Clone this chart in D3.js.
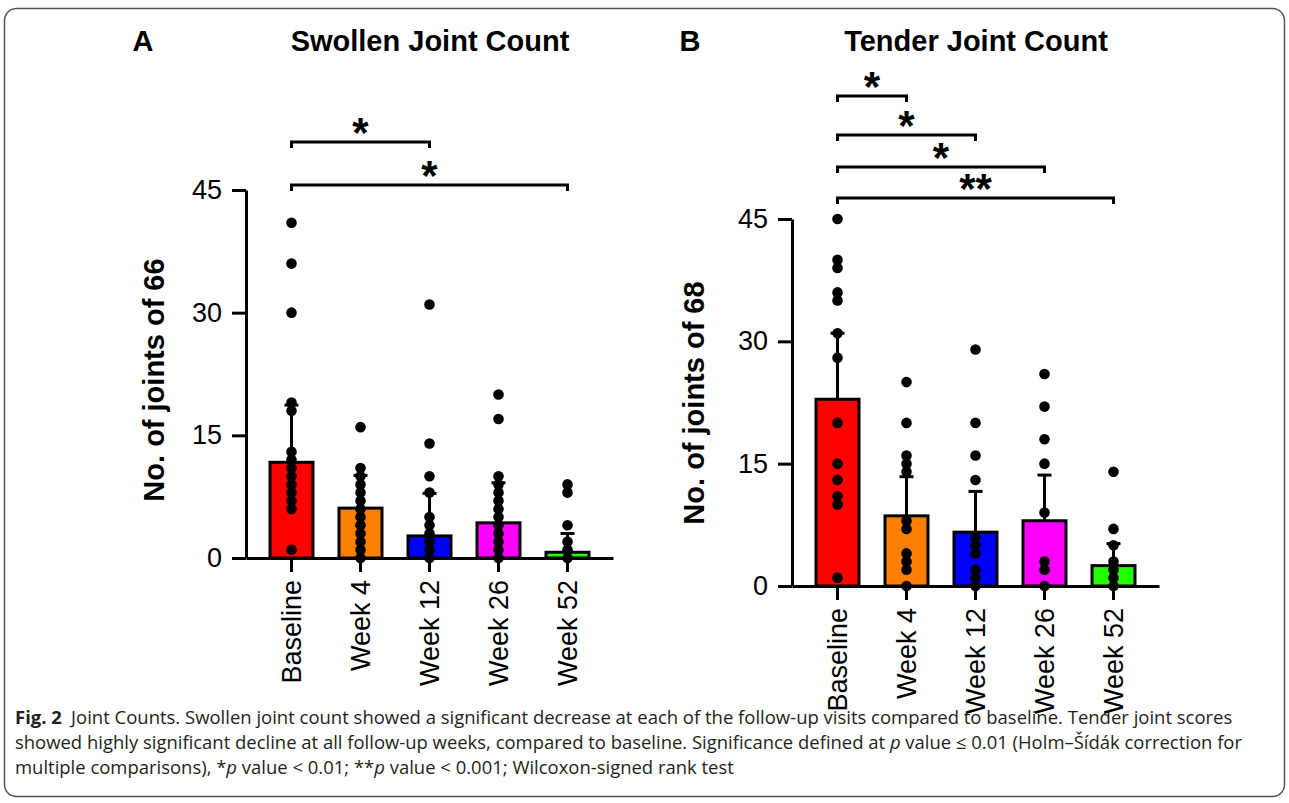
<!DOCTYPE html>
<html>
<head>
<meta charset="utf-8">
<script src="https://cdn.jsdelivr.net/npm/d3@7"></script>
<style>
  body { margin: 0; background: #fff; }
  svg { display: block; font-family: Arial, 'Liberation Sans', sans-serif; }
  .axis path, .axis line { stroke: #000; stroke-width: 3; }
  .axis text { font-size: 27px; fill: #000; font-family: Arial, 'Liberation Sans', sans-serif; }
  .caption { font-family: 'Open Sans', sans-serif; font-size: 18px; fill: #231f20; }
</style>
</head>
<body>
<svg id="fig" width="1289" height="803"></svg>
<script>
const weeks = ['Baseline', 'Week 4', 'Week 12', 'Week 26', 'Week 52'];
const barColors = ['#ff0000', '#ff8000', '#0000ff', '#ff00ff', '#22ff00'];
const yTicks = [0, 15, 30, 45];

// panel A - swollen joints
const swollenMean = [11.7, 6.1, 2.7, 4.3, 0.7];
const swollenSD = [7.0, 4.0, 5.2, 4.9, 2.3];
const swollenPoints = [
  [41, 36, 30, 19, 18, 13, 12, 11, 10, 9, 8, 7, 6, 1],
  [16, 11, 10, 9, 8, 7, 6, 5, 4, 3, 2, 1, 0],
  [31, 14, 10, 8, 5, 4, 3, 2, 1, 0],
  [20, 17, 10, 9, 8, 7, 6, 5, 4, 3, 2, 1, 0],
  [9, 8, 4, 2, 1, 0]
];
const swollenSigTo = ['Week 12', 'Week 52'];
const swollenSigLabel = ['*', '*'];

// panel B - tender joints
const tenderMean = [22.9, 8.6, 6.6, 8.0, 2.5];
const tenderSD = [8.1, 4.8, 5.0, 5.6, 2.7];
const tenderPoints = [
  [45, 40, 39, 36, 35, 31, 28, 20, 15, 13, 11, 10, 1],
  [25, 20, 16, 15, 14, 8, 7, 4, 3, 2, 0],
  [29, 20, 16, 13, 6, 5, 4, 2, 1, 0],
  [26, 22, 18, 15, 9, 3, 2, 0],
  [14, 7, 5, 3, 2, 1, 0]
];
const tenderSigTo = ['Week 4', 'Week 12', 'Week 26', 'Week 52'];
const tenderSigLabel = ['*', '*', '*', '**'];

const svg = d3.select('#fig');

svg.append('rect')
  .attr('x', 4.5).attr('y', 8.5)
  .attr('width', 1280).attr('height', 788)
  .attr('rx', 12)
  .attr('fill', 'none')
  .attr('stroke', '#555')
  .attr('stroke-width', 1.5);

function drawPanel(p) {
  const x = d3.scaleBand()
    .domain(weeks)
    .range(p.xRange)
    .paddingInner(0.377)
    .paddingOuter(0.348);
  const y = d3.scaleLinear().domain([0, 45]).range(p.yRange);
  const cx = d => x(d) + x.bandwidth() / 2;
  const g = svg.append('g');

  // bars
  g.selectAll('.bar')
    .data(p.means)
    .join('rect')
    .attr('class', 'bar')
    .attr('x', (d, i) => x(weeks[i]))
    .attr('width', x.bandwidth())
    .attr('y', d => y(d))
    .attr('height', d => y(0) - y(d))
    .attr('fill', (d, i) => barColors[i])
    .attr('stroke', '#000')
    .attr('stroke-width', 3);

  // error bars (mean + SD only)
  const err = g.selectAll('.err')
    .data(p.means)
    .join('g')
    .attr('class', 'err');
  err.append('line')
    .attr('x1', (d, i) => cx(weeks[i])).attr('x2', (d, i) => cx(weeks[i]))
    .attr('y1', d => y(d)).attr('y2', (d, i) => y(d + p.sds[i]))
    .attr('stroke', '#000').attr('stroke-width', 3);
  err.append('line')
    .attr('x1', (d, i) => cx(weeks[i]) - 7).attr('x2', (d, i) => cx(weeks[i]) + 7)
    .attr('y1', (d, i) => y(d + p.sds[i])).attr('y2', (d, i) => y(d + p.sds[i]))
    .attr('stroke', '#000').attr('stroke-width', 3);

  // axes
  g.append('g')
    .attr('class', 'axis')
    .attr('transform', 'translate(' + p.xRange[0] + ',0)')
    .call(d3.axisLeft(y).tickValues(yTicks).tickSize(14).tickSizeOuter(0).tickPadding(10));

  const xAxis = g.append('g')
    .attr('class', 'axis')
    .attr('transform', 'translate(0,' + y(0) + ')')
    .call(d3.axisBottom(x).tickSize(14).tickSizeOuter(0).tickPadding(8));
  xAxis.selectAll('text')
    .attr('transform', 'rotate(-90)')
    .attr('text-anchor', 'end')
    .attr('x', -22)
    .attr('y', 0)
    .attr('dy', '0.35em');

  // individual points
  p.points.forEach((pts, i) => {
    g.selectAll('.dot' + i)
      .data(pts)
      .join('circle')
      .attr('cx', cx(weeks[i]))
      .attr('cy', d => y(d))
      .attr('r', 5.3)
      .attr('fill', '#000');
  });

  // significance brackets
  p.sigTo.forEach((to, i) => {
    const by = p.bracketY[i];
    const x0 = cx(weeks[0]);
    const x1 = cx(to);
    g.append('path')
      .attr('d', 'M' + x0 + ',' + (by + 6) + 'V' + by + 'H' + x1 + 'V' + (by + 6))
      .attr('fill', 'none')
      .attr('stroke', '#000')
      .attr('stroke-width', 3);
    g.append('text')
      .attr('x', (x0 + x1) / 2)
      .attr('y', by + 5)
      .attr('text-anchor', 'middle')
      .style('font-size', '42px')
      .style('font-weight', 'bold')
      .text(p.sigLabel[i]);
  });

  // titles
  svg.append('text')
    .attr('x', p.letterX).attr('y', 51)
    .attr('text-anchor', 'middle')
    .style('font-size', '29px').style('font-weight', 'bold')
    .text(p.letter);
  svg.append('text')
    .attr('x', p.titleX).attr('y', 51)
    .attr('text-anchor', 'middle')
    .style('font-size', '29px').style('font-weight', 'bold')
    .text(p.title);

  svg.append('text')
    .attr('transform', 'translate(' + p.labelX + ',' + p.labelY + ') rotate(-90)')
    .attr('text-anchor', 'middle')
    .style('font-size', '29px').style('font-weight', 'bold')
    .text(p.yLabel);
}

drawPanel({
  xRange: [246, 613], yRange: [558, 190],
  means: swollenMean, sds: swollenSD, points: swollenPoints,
  sigTo: swollenSigTo, sigLabel: swollenSigLabel, bracketY: [142, 185],
  letter: 'A', letterX: 143, title: 'Swollen Joint Count', titleX: 430,
  yLabel: 'No. of joints of 66', labelX: 164, labelY: 380
});

drawPanel({
  xRange: [792, 1159], yRange: [586, 219],
  means: tenderMean, sds: tenderSD, points: tenderPoints,
  sigTo: tenderSigTo, sigLabel: tenderSigLabel, bracketY: [96, 135, 167, 198],
  letter: 'B', letterX: 690, title: 'Tender Joint Count', titleX: 976,
  yLabel: 'No. of joints of 68', labelX: 704, labelY: 403
});

// caption
const captionLines = [
  [['Fig. 2', 'bold'], ['\u2002Joint Counts. Swollen joint count showed a significant decrease at each of the follow-up visits compared to baseline. Tender joint scores', '']],
  [['showed highly significant decline at all follow-up weeks, compared to baseline. Significance defined at ', ''], ['p', 'italic'], [' value \u2264 0.01 (Holm\u2013\u0160\u00edd\u00e1k correction for', '']],
  [['multiple comparisons), *', ''], ['p', 'italic'], [' value < 0.01; **', ''], ['p', 'italic'], [' value < 0.001; Wilcoxon-signed rank test', '']]
];
const captionWidth = [1218, 1228, null];
const captionY = [724, 749, 774];

const ks = [];
captionLines.forEach((parts, i) => {
  const t = svg.append('text')
    .attr('class', 'caption')
    .attr('x', 0).attr('y', 0);
  parts.forEach(([s, style]) => {
    const ts = t.append('tspan').text(s);
    if (style === 'bold') ts.style('font-weight', 'bold');
    if (style === 'italic') ts.style('font-style', 'italic');
  });
  const w = t.node().getComputedTextLength();
  const k = captionWidth[i] ? captionWidth[i] / w : d3.mean(ks);
  ks.push(k);
  t.attr('transform', 'translate(15,' + captionY[i] + ') scale(' + k + ',1)');
});
</script>
</body>
</html>
